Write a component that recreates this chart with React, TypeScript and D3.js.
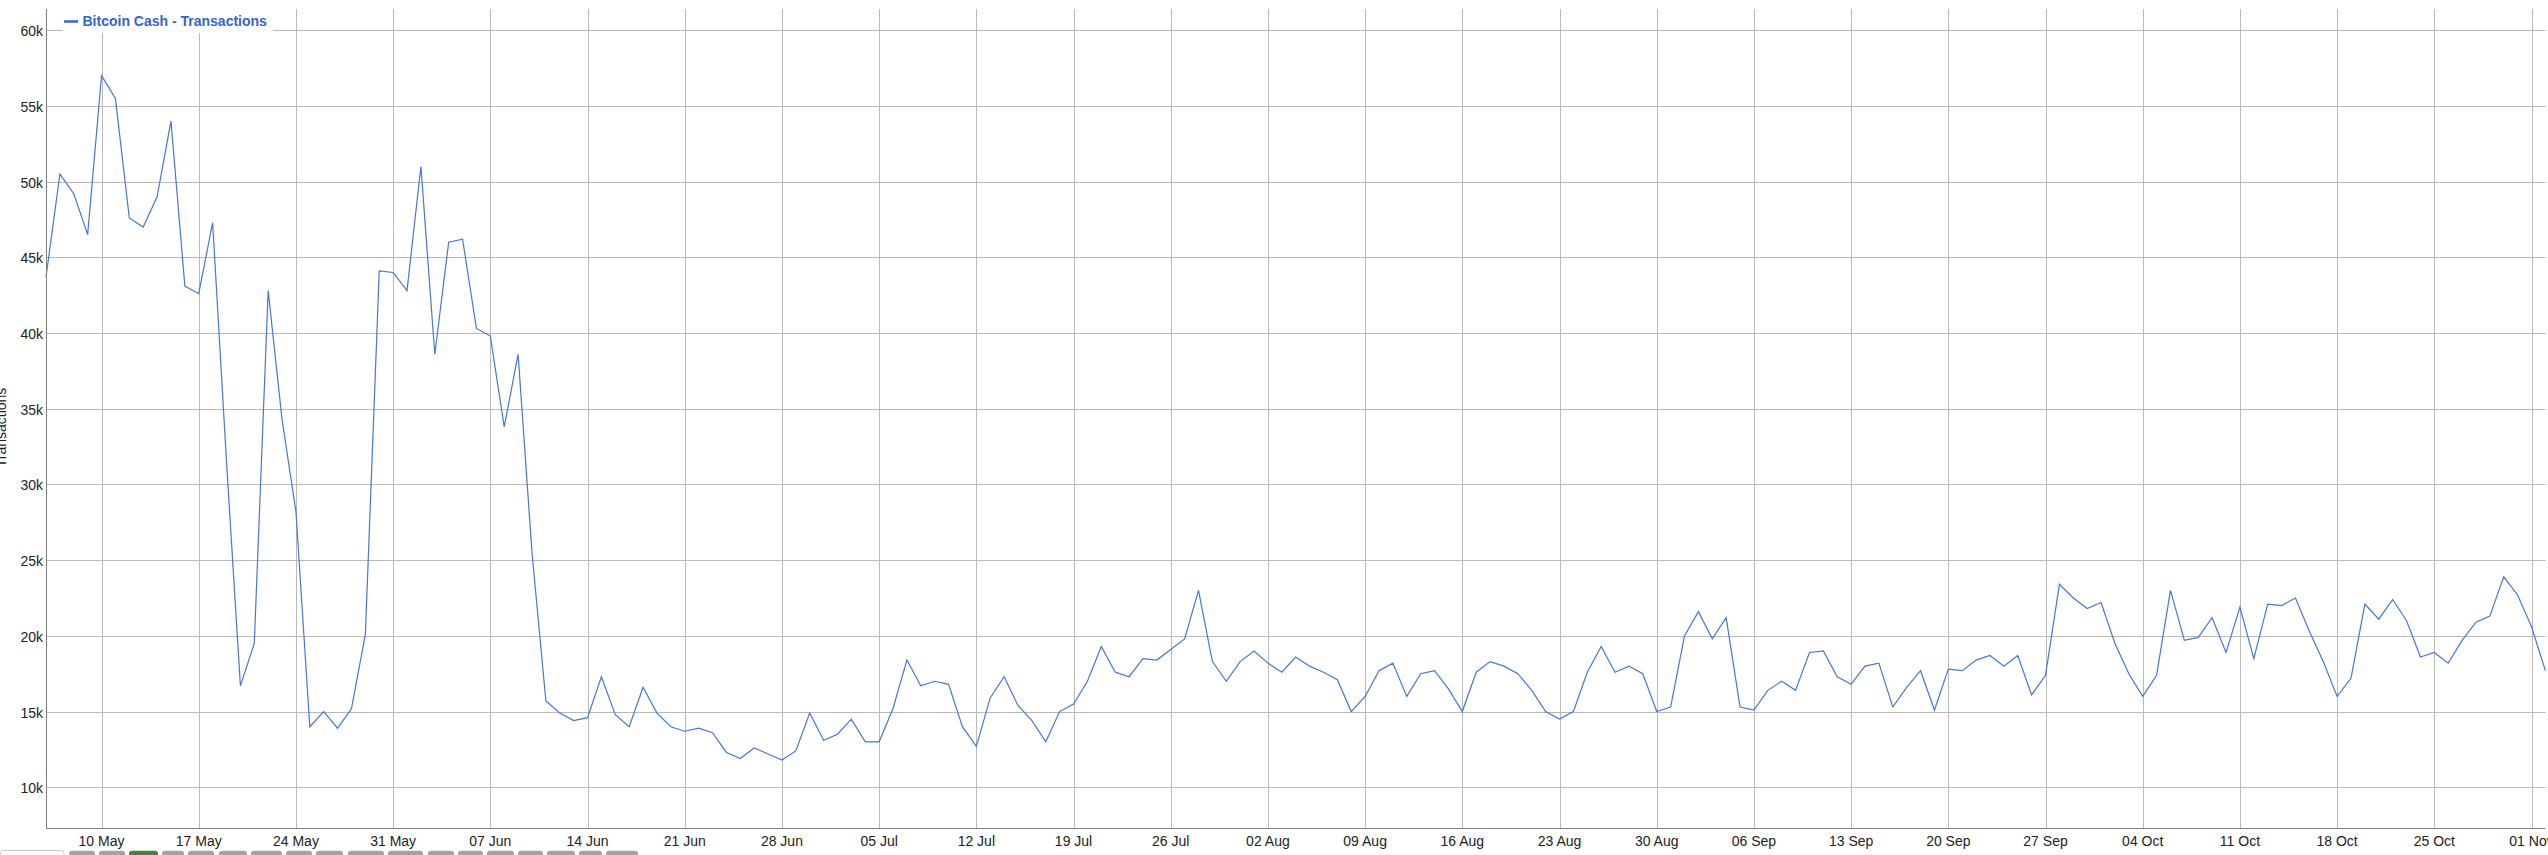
import React from "react";
import * as d3 from "d3";

const seriesName = "Bitcoin Cash - Transactions";
const yAxisTitle = "Transactions";
const startDate = Date.UTC(2018, 4, 6);
const transactions: number[] = [
  // May 6 - May 31
  43700, 50500, 49200, 46500, 57000, 55500, 47600, 47000, 49000, 54000, 43100, 42600, 47300,
  31500, 16700, 19500, 42800, 34300, 28200, 14000, 15000, 13900, 15200, 20100, 44100, 44000,
  // Jun
  42800, 51000, 38600, 46000, 46200, 40300, 39800, 33800, 38600, 25500, 15700, 14900, 14400,
  14600, 17300, 14800, 14000, 16600, 14900, 14000, 13700, 13900, 13600, 12300, 11900, 12600,
  12200, 11800, 12400, 14900,
  // Jul
  13100, 13500, 14500, 13000, 13000, 15200, 18400, 16700, 17000, 16800, 14000, 12700, 15900,
  17300, 15400, 14400, 13000, 15000, 15500, 17000, 19300, 17600, 17300, 18500, 18400, 19100,
  19800, 23000, 18300, 17000, 18300,
  // Aug
  19000, 18200, 17600, 18600, 18000, 17600, 17100, 15000, 16000, 17700, 18200, 16000, 17500,
  17700, 16500, 15000, 17600, 18300, 18000, 17500, 16400, 15000, 14500, 15000, 17600, 19300,
  17600, 18000, 17500, 15000, 15300,
  // Sep
  20000, 21600, 19800, 21200, 15300, 15100, 16400, 17000, 16400, 18900, 19000, 17300, 16800,
  18000, 18200, 15300, 16600, 17700, 15100, 17800, 17700, 18400, 18700, 18000, 18700, 16100,
  17400, 23400, 22500, 21800,
  // Oct
  22200, 19500, 17500, 16000, 17400, 23000, 19700, 19900, 21200, 18900, 21900, 18500, 22100,
  22000, 22500, 20300, 18300, 16000, 17200, 22100, 21100, 22400, 21000, 18600, 18900, 18200,
  19700, 20900, 21300, 23900, 22700,
  // Nov
  20600, 17700,
];
const yTicks: number[] = [10000, 15000, 20000, 25000, 30000, 35000, 40000, 45000, 50000, 55000, 60000];
const yDomain: [number, number] = [7290, 61400];
const firstTickDate = Date.UTC(2018, 4, 10);
const buttonLayout: [number, number, boolean][] = [
  [69, 95, false], [99, 125, false], [129, 158, true], [162, 184, false], [188, 214, false],
  [219, 247, false], [251, 282, false], [286, 312, false], [316, 343, false], [348, 384, false],
  [388, 423, false], [428, 454, false], [458, 483, false], [487, 514, false], [518, 543, false],
  [547, 575, false], [579, 602, false], [606, 638, false],
];

const W = 2548;
const H = 855;
const M = { left: 46, right: 2545.4, top: 9, bottom: 828.3 };
const FONT = "Arial, 'Liberation Sans', sans-serif";

export default function App() {
  const dates = transactions.map((_, i) => new Date(startDate + i * 86400000));
  const x = d3.scaleUtc().domain([dates[0], dates[dates.length - 1]]).range([M.left, M.right]);
  const y = d3.scaleLinear().domain(yDomain).range([M.bottom, M.top]);
  const xTicks = d3.utcDay.every(7)!.range(new Date(firstTickDate), new Date(dates[dates.length - 1].getTime() + 1))
    .filter(() => true);
  const weekly: Date[] = [];
  for (let t = firstTickDate; t <= dates[dates.length - 1].getTime(); t += 7 * 86400000) weekly.push(new Date(t));
  const fmt = d3.utcFormat("%d %b");
  const line = d3.line<number>().x((_, i) => x(dates[i])).y((d) => y(d));
  const path = line(transactions) || "";
  void xTicks;

  return (
    <>
      <style>{`body{margin:0;overflow:hidden;}`}</style>
      <svg width={W} height={H} style={{ position: "absolute", left: 0, top: 0, display: "block" }} fontFamily={FONT}>
        <rect x={0} y={0} width={W} height={H} fill="#ffffff" />
        {/* horizontal gridlines */}
        {yTicks.map((t) => (
          <line key={"h" + t} x1={M.left} x2={M.right} y1={Math.round(y(t)) + 0.5} y2={Math.round(y(t)) + 0.5} stroke="#b9b9b9" strokeWidth={1} />
        ))}
        {/* vertical gridlines */}
        {weekly.map((d) => (
          <line key={"v" + d.getTime()} x1={Math.round(x(d)) + 0.5} x2={Math.round(x(d)) + 0.5} y1={M.top} y2={M.bottom} stroke="#b9b9b9" strokeWidth={1} />
        ))}
        {/* series */}
        <path d={path} fill="none" stroke="#4476dc" strokeWidth={1.2} strokeLinejoin="miter" />
        {/* axes */}
        <line x1={M.left + 0.5} x2={M.left + 0.5} y1={M.top} y2={M.bottom + 0.5} stroke="#7d7d7d" strokeWidth={1} />
        <line x1={M.left} x2={M.right} y1={Math.round(M.bottom) + 0.5} y2={Math.round(M.bottom) + 0.5} stroke="#7d7d7d" strokeWidth={1} />
        {/* y tick labels */}
        {yTicks.map((t) => (
          <text key={"yl" + t} x={43} y={y(t) + 6} textAnchor="end" fontSize={14} fill="#222">
            {t / 1000 + "k"}
          </text>
        ))}
        {/* x tick labels */}
        {weekly.map((d) => (
          <text key={"xl" + d.getTime()} x={x(d)} y={846} textAnchor="middle" fontSize={14} fill="#222">
            {fmt(d)}
          </text>
        ))}
        {/* y axis title */}
        <text transform="translate(5.5,427.5) rotate(-90)" textAnchor="middle" fontSize={14} fill="#222">
          {yAxisTitle}
        </text>
        {/* legend */}
        <rect x={63} y={M.top} width={210} height={24} fill="#ffffff" />
        <line x1={64} x2={78} y1={21.5} y2={21.5} stroke="#3366cc" strokeWidth={2.5} />
        <text x={82.5} y={26} fontSize={14} fontWeight="bold" fill="#3366cc">
          {seriesName}
        </text>
        {/* range buttons (mostly cut off) */}
        <rect x={0.5} y={850.5} width={63.5} height={12} rx={3} fill="#ffffff" stroke="#c8c8c8" />
        {buttonLayout.map(([a, b, active], i) => (
          <rect key={"b" + i} x={a} y={850.7} width={b - a} height={12} rx={3} fill={active ? "#3c873c" : "#a3a3a3"} />
        ))}
      </svg>
    </>
  );
}
